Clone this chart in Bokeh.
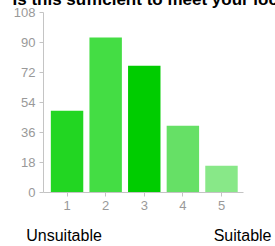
from bokeh.plotting import figure
from bokeh.models import FixedTicker, Range1d, LinearAxis
from bokeh.embed import file_html
from bokeh.resources import INLINE

categories = [1, 2, 3, 4, 5]
counts = [49, 93, 76, 40, 16]
colors = ["#22d622", "#44dd44", "#00cc00", "#66e066", "#88e888"]
y_ticks = [0, 18, 36, 54, 72, 90, 108]
title_text = "Is this sufficient to meet your local needs?"
end_labels = ["Unsuitable", "Suitable"]
end_label_pos = [0.922, 5.547]

EXTRA = 17  # title panel height above the visible area, hidden by a negative margin

p = figure(width=275, height=246 + EXTRA, output_backend="svg", toolbar_location=None,
           x_range=Range1d(0.39, 5.57), y_range=Range1d(0, 108),
           min_border_left=43, min_border_right=32, min_border_top=0, min_border_bottom=54,
           title=title_text)
p.styles = {"margin-top": f"-{EXTRA}px"}
p.outline_line_color = None
p.grid.visible = False

p.title.text_font = "Liberation Sans"
p.title.text_font_style = "bold"
p.title.text_font_size = "17px"
p.title.text_color = "black"
p.title.align = "left"
p.title.offset = -31
p.title.standoff = 8

p.vbar(x=categories, top=counts, width=0.84, bottom=0, fill_color=colors, line_color=None)

for ax in (p.xaxis[0], p.yaxis[0]):
    ax.axis_line_color = "#c4c4c4"
    ax.major_tick_line_color = "#c4c4c4"
    ax.minor_tick_line_color = None
    ax.major_tick_in = 0
    ax.major_tick_out = 4
    ax.major_label_text_color = "#999999"
    ax.major_label_text_font = "Liberation Sans"
    ax.major_label_text_font_size = "13px"
    ax.major_label_standoff = 4

p.xaxis.ticker = FixedTicker(ticks=categories)
p.yaxis.ticker = FixedTicker(ticks=y_ticks)

end_axis = LinearAxis(ticker=FixedTicker(ticks=end_label_pos),
                      major_label_overrides={pos: lab for pos, lab in zip(end_label_pos, end_labels)})
end_axis.axis_line_color = None
end_axis.major_tick_line_color = None
end_axis.minor_tick_line_color = None
end_axis.major_tick_in = 0
end_axis.major_tick_out = 0
end_axis.major_label_standoff = 14
end_axis.major_label_text_color = "black"
end_axis.major_label_text_font = "Liberation Sans"
end_axis.major_label_text_font_size = "16px"
p.add_layout(end_axis, "below")

open("out.html", "w").write(file_html(p, INLINE))
